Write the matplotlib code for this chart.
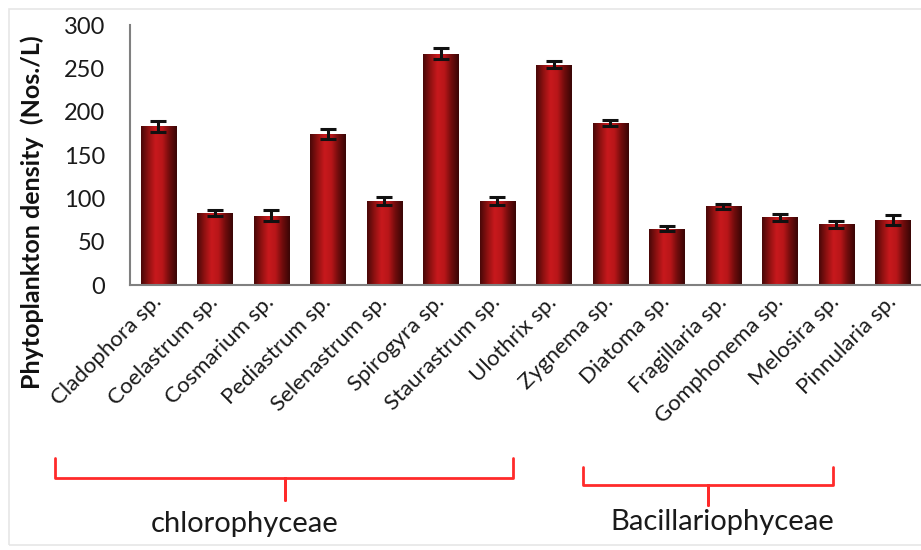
import numpy as np
import matplotlib.pyplot as plt
from matplotlib.colors import LinearSegmentedColormap
from matplotlib.lines import Line2D
from matplotlib.patches import Rectangle

# Phytoplankton density per genus (Nos./L)
species = ['Cladophora sp.', 'Coelastrum sp.', 'Cosmarium sp.', 'Pediastrum sp.',
           'Selenastrum sp.', 'Spirogyra sp.', 'Staurastrum sp.', 'Ulothrix sp.',
           'Zygnema sp.', 'Diatoma sp.', 'Fragillaria sp.', 'Gomphonema sp.',
           'Melosira sp.', 'Pinnularia sp.']
density = [183, 83, 80, 174, 97, 267, 97, 254, 187, 65, 91, 78, 70, 75]
errors = [6, 3, 6, 6, 5, 6, 5, 4, 3, 3, 3, 4, 4, 6]
group_names = ['chlorophyceae', 'Bacillariophyceae']

plt.rcParams['font.family'] = ['Lato', 'DejaVu Sans']
W, H = 921, 550
fig = plt.figure(figsize=(W / 100, H / 100), dpi=100)
fig.patch.set_facecolor('white')

def fx(x):
    return x / W

def fy(y):
    return 1 - y / H

# faint outer frame
fig.add_artist(Rectangle((fx(9), fy(545)), fx(930) - fx(9), fy(9) - fy(545),
                         transform=fig.transFigure, fill=False,
                         edgecolor='#e6e6e6', lw=1.2))

ax = fig.add_axes([fx(130), fy(285), fx(921) - fx(130), fy(25) - fy(285)])
x = np.arange(len(species))
bars = ax.bar(x, density, width=0.62, color='#9e1515', zorder=2)

# cylinder-like shading on the bars
cmap = LinearSegmentedColormap.from_list('cyl', ['#4a0808', '#8e1111', '#c8191d', '#b81619', '#6e0c0c', '#3a0606'])
prof = np.linspace(0, 1, 60)
grad = np.tile(prof, (40, 1))
for b in bars:
    im = ax.imshow(grad, extent=[b.get_x(), b.get_x() + b.get_width(), 0, b.get_height()],
                   aspect='auto', cmap=cmap, zorder=2.5, interpolation='bicubic')
    im.set_clip_path(b)

ax.errorbar(x, density, yerr=errors, fmt='none', ecolor='#111111', elinewidth=2.2,
            capsize=5.5, capthick=2.2, zorder=4)

ax.set_xlim(-0.5, 13.5)
ax.set_ylim(0, 300)
ax.set_yticks(range(0, 301, 50))
ax.set_xticks(x)
ax.set_xticklabels(species, rotation=45, ha='right', va='center', rotation_mode='anchor',
                   fontsize=16, color='#1a1a1a')
ax.tick_params(axis='y', length=0, pad=18, labelsize=17, labelcolor='#1a1a1a')
ax.tick_params(axis='x', length=0, pad=10)
for s in ['top', 'right']:
    ax.spines[s].set_visible(False)
for s in ['left', 'bottom']:
    ax.spines[s].set_color('#808080')
    ax.spines[s].set_linewidth(1.5)

fig.text(fx(32), fy(212), 'Phytoplankton density  (Nos./L)', rotation=90,
         ha='center', va='center', fontsize=18, fontweight='bold', color='#111111')

# group brackets
def bracket(x0, x1, xm, ytop, yh, ybot):
    pts = [(x0, ytop), (x0, yh), (xm, yh), (xm, ybot), (xm, yh), (x1, yh), (x1, ytop)]
    xs = [fx(p[0]) for p in pts]
    ys = [fy(p[1]) for p in pts]
    fig.add_artist(Line2D(xs, ys, transform=fig.transFigure, color='#ff2a2a',
                          lw=2, solid_joinstyle='round', solid_capstyle='round'))

bracket(55, 513, 285, 458, 478, 500)
bracket(583, 833, 708, 467, 485, 505)
fig.text(fx(245), fy(524), group_names[0], ha='center', va='center', fontsize=21, color='#1a1a1a')
fig.text(fx(722), fy(522), group_names[1], ha='center', va='center', fontsize=21, color='#1a1a1a')

fig.savefig('out.png', dpi=100)
